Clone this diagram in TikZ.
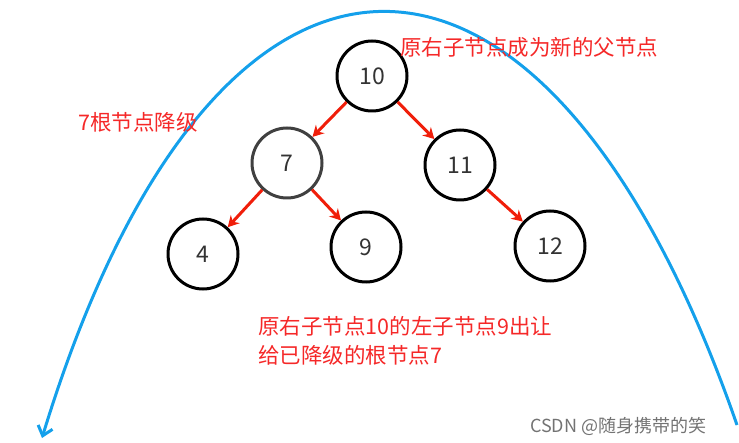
\documentclass[tikz,border=0pt]{standalone}
\usepackage{fontspec}
\setmainfont{Noto Sans CJK SC}
\usetikzlibrary{arrows.meta}
\begin{document}
\begin{tikzpicture}[x=1pt,y=-1pt,
  nd/.style={circle,draw=black,line width=3pt,minimum size=70pt,inner sep=0pt,font=\fontsize{23}{26}\selectfont,text=black!80},
  ed/.style={draw={rgb,255:red,240;green,30;blue,10},line width=3pt,-{Stealth[length=11pt,width=12pt]}},
  lab/.style={text={rgb,255:red,245;green,40;blue,40},font=\fontsize{21.5}{26}\selectfont,anchor=west,inner sep=0pt}]
\useasboundingbox (0,0) rectangle (739,443);
\node[nd] (n10) at (372,76) {10};
\node[nd,draw=black!75] (n7) at (287,163) {7};
\node[nd] (n11) at (460,165) {11};
\node[nd] (n4) at (203,254) {4};
\node[nd] (n9) at (366,247) {9};
\node[nd] (n12) at (550,246) {12};
\draw[ed] (n10) -- (n7);
\draw[ed] (n10) -- (n11);
\draw[ed] (n7) -- (n4);
\draw[ed] (n7) -- (n9);
\draw[ed] (n11) -- (n12);
\coordinate (cs) at (737,425);
\coordinate (ce) at (42,438);
\draw[draw={rgb,255:red,20;green,160;blue,235},line width=3pt,-{Straight Barb[length=9pt,width=15pt]}] (cs) .. controls (545,-128) and (215,-128) .. (ce);
\node[lab] (t1) at (400,47) {原右子节点成为新的父节点};
\node[lab] (t2) at (78,122) {7根节点降级};
\node[lab] (t3) at (258,326) {原右子节点10的左子节点9出让};
\node[lab] (t4) at (258,355) {给已降级的根节点7};
\node[text=black!55,font=\fontsize{18}{20}\selectfont,anchor=west,inner sep=0pt] (wm) at (530,426) {CSDN @随身携带的笑};
\end{tikzpicture}
\end{document}
